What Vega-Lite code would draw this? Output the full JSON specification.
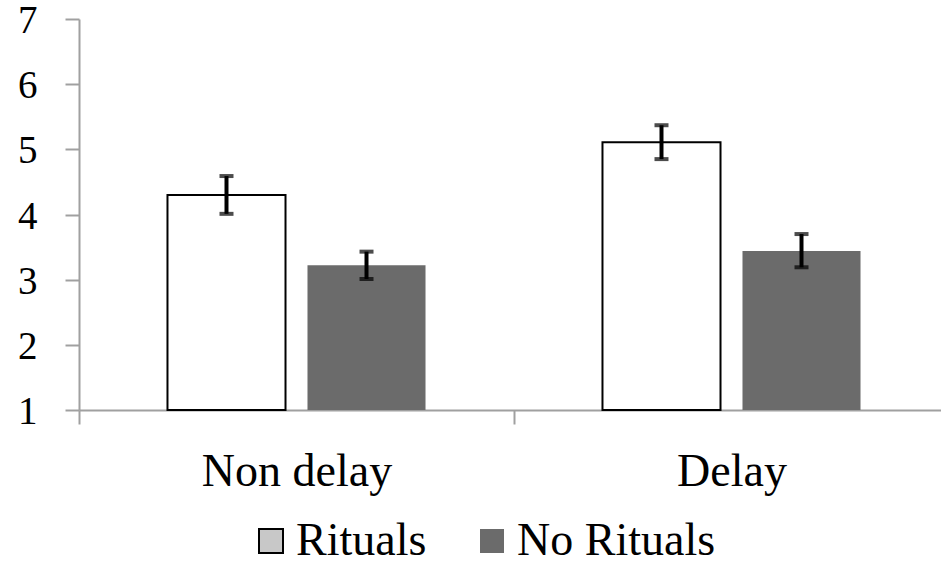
{
  "$schema": "https://vega.github.io/schema/vega-lite/v6.json",
  "width": 862,
  "height": 391,
  "autosize": {"type": "none"},
  "padding": {"left": 79, "top": 19, "right": 0, "bottom": 165},
  "background": "white",
  "config": {
    "view": {"stroke": null},
    "font": "Liberation Serif"
  },
  "data": {
    "values": [
      {"group": "Non delay", "cond": "Rituals", "mean": 4.30, "lo": 4.01, "hi": 4.59},
      {"group": "Non delay", "cond": "No Rituals", "mean": 3.22, "lo": 3.01, "hi": 3.43},
      {"group": "Delay", "cond": "Rituals", "mean": 5.11, "lo": 4.85, "hi": 5.37},
      {"group": "Delay", "cond": "No Rituals", "mean": 3.44, "lo": 3.19, "hi": 3.70}
    ]
  },
  "encoding": {
    "x": {
      "field": "group",
      "type": "nominal",
      "sort": ["Non delay", "Delay"],
      "scale": {"paddingInner": 0, "paddingOuter": 0, "range": [0, 870]},
      "axis": {
        "title": null,
        "labelAngle": 0,
        "tickBand": "extent",
        "domainColor": "#a0a0a0",
        "domainWidth": 2,
        "tickColor": "#a0a0a0",
        "tickWidth": 2,
        "tickSize": 14,
        "labelFont": "Liberation Serif",
        "labelFontSize": 46,
        "labelColor": "black",
        "labelLimit": 500,
        "labelPadding": 25
      }
    },
    "xOffset": {
      "field": "cond",
      "type": "nominal",
      "scale": {"domain": ["Rituals", "No Rituals"], "paddingInner": 0.157, "paddingOuter": 0.632}
    }
  },
  "layer": [
    {
      "mark": {"type": "bar", "strokeWidth": 2},
      "encoding": {
        "y": {
          "field": "mean",
          "type": "quantitative",
          "scale": {"domain": [1, 7], "nice": false, "zero": false},
          "axis": {
            "title": null,
            "values": [1, 2, 3, 4, 5, 6, 7],
            "format": "d",
            "grid": false,
            "domainColor": "#a0a0a0",
            "domainWidth": 2,
            "tickColor": "#a0a0a0",
            "tickWidth": 2,
            "tickSize": 14,
            "labelFont": "Liberation Serif",
            "labelFontSize": 39,
            "labelOffset": 1.5,
            "labelColor": "black",
            "labelLimit": 200,
            "labelPadding": 28
          }
        },
        "y2": {"datum": 1},
        "fill": {
          "field": "cond",
          "type": "nominal",
          "scale": {"domain": ["Rituals", "No Rituals"], "range": ["#ffffff", "#6b6b6b"]},
          "legend": null
        },
        "stroke": {
          "field": "cond",
          "type": "nominal",
          "scale": {"domain": ["Rituals", "No Rituals"], "range": ["#000000", "transparent"]},
          "legend": null
        }
      }
    },
    {
      "mark": {"type": "rule", "color": "black", "strokeWidth": 4},
      "encoding": {
        "y": {"field": "lo", "type": "quantitative"},
        "y2": {"field": "hi"}
      }
    },
    {
      "mark": {"type": "tick", "orient": "horizontal", "color": "black", "thickness": 4, "size": 14},
      "encoding": {
        "y": {"field": "lo", "type": "quantitative"}
      }
    },
    {
      "mark": {"type": "tick", "orient": "horizontal", "color": "black", "thickness": 4, "size": 14},
      "encoding": {
        "y": {"field": "hi", "type": "quantitative"}
      }
    },
    {
      "mark": {"type": "square", "opacity": 0},
      "encoding": {
        "y": {"field": "mean", "type": "quantitative"},
        "fill": {
          "field": "cond",
          "type": "nominal",
          "title": null,
          "scale": {"domain": ["Rituals", "No Rituals"], "range": ["#c8c8c8", "#6b6b6b"]},
          "legend": {
            "orient": "none",
            "legendX": 169,
            "legendY": 499,
            "direction": "horizontal",
            "title": null,
            "symbolType": "square",
            "symbolSize": 576,
            "symbolStrokeWidth": 2,
            "labelFont": "Liberation Serif",
            "labelFontSize": 46,
            "labelColor": "black",
            "labelLimit": 400,
            "labelOffset": 2,
            "columnPadding": 42,
            "encode": {
              "symbols": {
                "update": {
                  "opacity": {"value": 1},
                  "fillOpacity": {"value": 1},
                  "strokeOpacity": {"value": 1}
                }
              }
            }
          }
        },
        "stroke": {
          "field": "cond",
          "type": "nominal",
          "title": null,
          "scale": {"domain": ["Rituals", "No Rituals"], "range": ["#000000", "transparent"]}
        }
      }
    }
  ],
  "resolve": {"scale": {"fill": "independent", "stroke": "independent"}}
}
